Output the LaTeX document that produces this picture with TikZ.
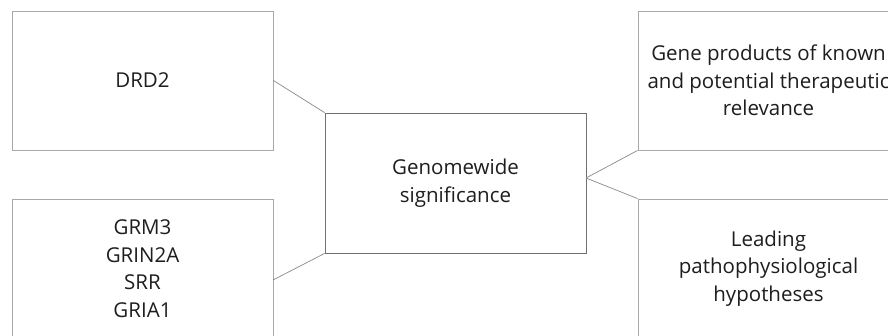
\documentclass[tikz,border=0pt]{standalone}
\usepackage{fontspec}
\setmainfont{Open Sans}
\definecolor{txt}{HTML}{1E1E1E}
\definecolor{edge}{HTML}{A8A8A8}
\definecolor{cedge}{HTML}{707070}
\definecolor{link}{HTML}{8A8A8A}
\begin{document}
\begin{tikzpicture}[x=1pt,y=-1pt,
  box/.style={draw=edge,line width=0.9pt,rectangle,minimum width=261pt,minimum height=139pt,
    align=center,text=txt,font=\fontsize{20.5}{27.5}\selectfont,inner sep=0pt},
  cbox/.style={box,draw=cedge,line width=0.8pt,minimum height=140pt},
  link/.style={draw=link,line width=0.7pt}]
\clip (0,0) rectangle (888,335);
\fill[white] (0,0) rectangle (888,335);
\node[box] (drd) at (142.5,80.5) {DRD2};
\node[box] (grm) at (142.5,268.5) {GRM3\\GRIN2A\\SRR\\GRIA1};
\node[cbox] (gw) at (455.5,183) {Genomewide\\significance};
\node[box] (gene) at (768.5,80.5) {Gene products of known\\and potential therapeutic\\relevance};
\node[box] (lead) at (768.5,268.5) {Leading\\pathophysiological\\hypotheses};
\coordinate (gwr) at (586,178);
\coordinate (grmr) at (273,280);
\draw[link] (drd.east) -- (gw.north west);
\draw[link] (grmr) -- (gw.south west);
\draw[link] (gwr) -- (gene.south west);
\draw[link] (gwr) -- (lead.north west);
\end{tikzpicture}
\end{document}
